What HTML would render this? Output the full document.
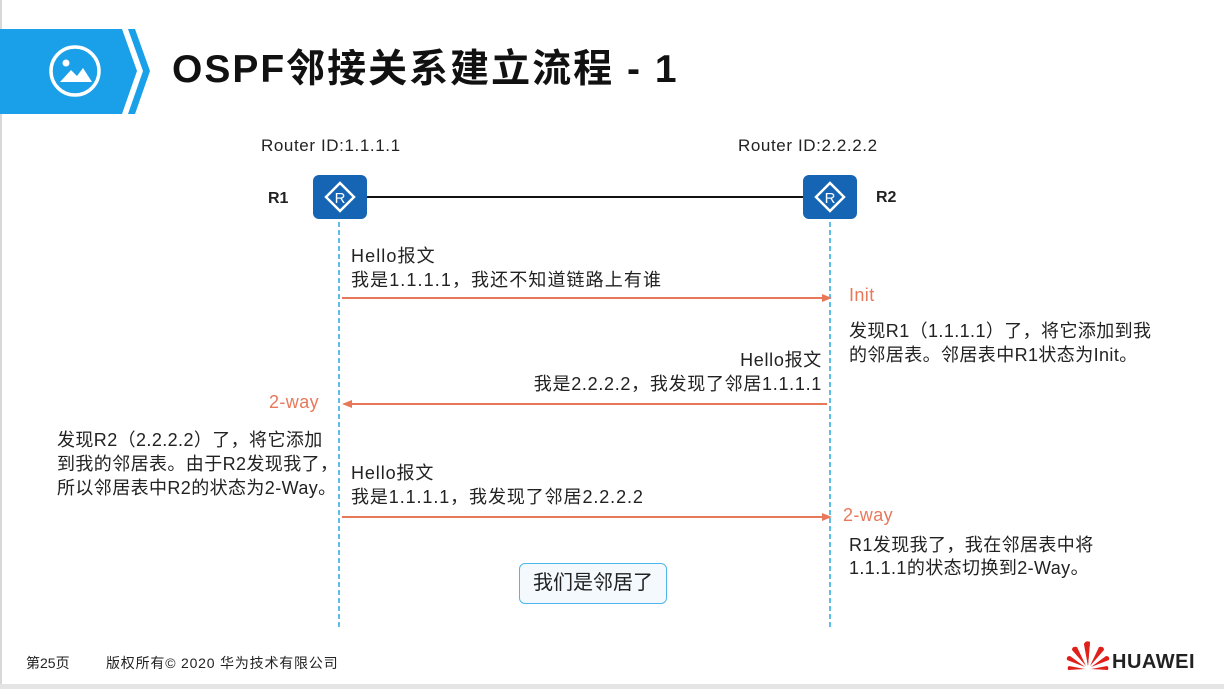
<!DOCTYPE html>
<html><head><meta charset="utf-8"><style>
body{margin:0;width:1224px;height:689px;position:relative;overflow:hidden;background:#fff;font-family:"Liberation Sans","Noto Sans CJK SC",sans-serif;color:#222}
.t{position:absolute;white-space:nowrap;font-size:18px;line-height:24px;letter-spacing:1.1px}
.d{letter-spacing:0.4px}
.o{color:#e8785a}
.r{position:absolute;width:54px;height:44px;background:#1565b4;border-radius:6px}
</style></head><body>
<div style="position:absolute;left:0;top:0;width:2px;height:689px;background:#d8d8d8"></div>
<div style="position:absolute;left:0;top:684px;width:1224px;height:5px;background:#e4e4e4"></div>
<svg style="position:absolute;left:0;top:0" width="1224" height="689">
<polygon points="0,29 122,29 137,71 122,114 0,114" fill="#1aa0e8"/>
<polygon points="128,29 135,29 150,71 135,114 128,114 143,71" fill="#1aa0e8"/>
<circle cx="75" cy="71" r="24" fill="none" stroke="#fff" stroke-width="3.5"/>
<circle cx="66" cy="63" r="3.5" fill="#fff"/>
<polygon points="60,82 71,70 77,76 83,68 92,82" fill="#fff"/>
<line x1="367" y1="197" x2="803" y2="197" stroke="#111" stroke-width="2"/>
<line x1="339" y1="222" x2="339" y2="628" stroke="#29a8e0" stroke-width="1.5" stroke-dasharray="5,3"/>
<line x1="830" y1="222" x2="830" y2="628" stroke="#29a8e0" stroke-width="1.5" stroke-dasharray="5,3"/>
<g stroke="#e8785a" stroke-width="2" fill="#e8785a">
<line x1="342" y1="298" x2="824" y2="298"/><polygon points="832,298 822,294 822,302" stroke="none"/>
<line x1="827" y1="404" x2="350" y2="404"/><polygon points="342,404 352,400 352,408" stroke="none"/>
<line x1="342" y1="517" x2="824" y2="517"/><polygon points="832,517 822,513 822,521" stroke="none"/>
</g>
<g transform="translate(1088,664)" fill="#e0201a">
<path d="M0,2 L-4,-20 Q-2,-24 2,-22 Z"/><path d="M0,2 L4,-20 Q2,-24 -2,-22 Z" transform="scale(-1,1)"/>
<path d="M-2,2 L-16,-14 Q-16,-18 -11,-17 Z"/><path d="M2,2 L16,-14 Q16,-18 11,-17 Z"/>
<path d="M-3,3 L-21,-4 Q-22,-8 -18,-8 Z"/><path d="M3,3 L21,-4 Q22,-8 18,-8 Z"/>
<path d="M-3,5 L-20,6 Q-21,3 -19,2 Z"/><path d="M3,5 L20,6 Q21,3 19,2 Z"/>
</g>
</svg>
<div class="t" style="left:172px;top:47px;font-size:39px;line-height:46px;font-weight:bold;color:#111;letter-spacing:2px">OSPF邻接关系建立流程 - 1</div>
<div class="t" style="left:261px;top:134px;font-size:17px;letter-spacing:0.6px">Router ID:1.1.1.1</div>
<div class="t" style="left:738px;top:134px;font-size:17px;letter-spacing:0.6px">Router ID:2.2.2.2</div>
<div class="t" style="left:268px;top:187px;font-weight:bold;font-size:16px;letter-spacing:0">R1</div>
<div class="t" style="left:876px;top:186px;font-weight:bold;font-size:16px;letter-spacing:0">R2</div>
<div class="r" style="left:313px;top:175px"></div>
<div class="r" style="left:803px;top:175px"></div>
<svg style="position:absolute;left:313px;top:175px" width="54" height="44"><polygon points="27,8 41,22 27,36 13,22" fill="none" stroke="#fff" stroke-width="2.5"/><text x="27" y="28" fill="#fff" font-size="15" text-anchor="middle" font-family="Liberation Sans">R</text></svg>
<svg style="position:absolute;left:803px;top:175px" width="54" height="44"><polygon points="27,8 41,22 27,36 13,22" fill="none" stroke="#fff" stroke-width="2.5"/><text x="27" y="28" fill="#fff" font-size="15" text-anchor="middle" font-family="Liberation Sans">R</text></svg>
<div class="t" style="left:351px;top:244px">Hello报文<br>我是1.1.1.1，我还不知道链路上有谁</div>
<div class="t o d" style="left:849px;top:283px">Init</div>
<div class="t d" style="left:849px;top:319px">发现R1（1.1.1.1）了，将它添加到我<br>的邻居表。邻居表中R1状态为Init。</div>
<div class="t" style="right:402px;top:348px;text-align:right;letter-spacing:0.7px">Hello报文<br>我是2.2.2.2，我发现了邻居1.1.1.1</div>
<div class="t o d" style="left:269px;top:390px">2-way</div>
<div class="t d" style="left:57px;top:428px">发现R2（2.2.2.2）了，将它添加<br>到我的邻居表。由于R2发现我了，<br>所以邻居表中R2的状态为2-Way。</div>
<div class="t" style="left:351px;top:461px;letter-spacing:0.9px">Hello报文<br>我是1.1.1.1，我发现了邻居2.2.2.2</div>
<div class="t o d" style="left:843px;top:503px">2-way</div>
<div class="t d" style="left:849px;top:534px;line-height:23px">R1发现我了，我在邻居表中将<br>1.1.1.1的状态切换到2-Way。</div>
<div style="position:absolute;left:519px;top:563px;width:146px;height:39px;border:1.5px solid #4db6ea;border-radius:6px;background:#f3f9fd;font-size:20px;line-height:39px;text-align:center">我们是邻居了</div>
<div class="t" style="left:26px;top:651px;font-size:14px;letter-spacing:0">第25页</div>
<div class="t" style="left:106px;top:651px;font-size:14px;letter-spacing:0.8px">版权所有© 2020 华为技术有限公司</div>
<div class="t" style="left:1112px;top:650px;font-size:20px;font-weight:bold;color:#222;letter-spacing:0.5px">HUAWEI</div>
</body></html>
